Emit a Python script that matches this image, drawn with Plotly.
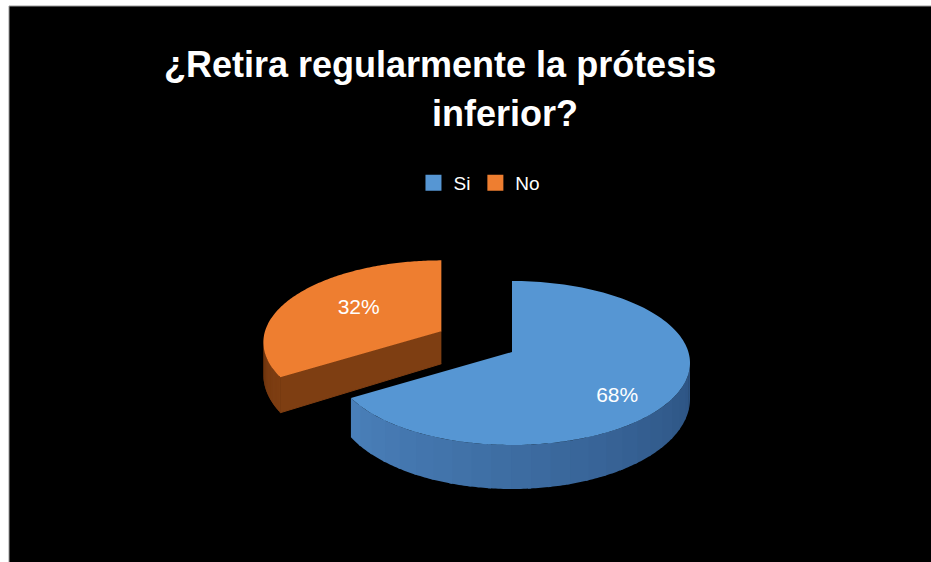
import numpy as np
import plotly.graph_objects as go

# ---- data ----
labels = ["Si", "No"]
values = [68, 32]
explode = [0.0, 0.47]
top_colors = ["#5696D3", "#EE7E30"]
side_colors_a = ["#4A80BA", "#7E3E12"]   # side shading, near slice start
side_colors_b = ["#2C5281", "#733710"]   # side shading, far end
title_line1 = "¿Retira regularmente la prótesis"
title_line2 = "inferior?"

# ---- layout constants (pixel space) ----
W, H = 931, 562
CX, CY = 512, 363
RX, RY = 178, 82
VOFF = 11
THICK_SCALE = [1.0, 0.9]
LABEL_F = [0.7, 0.55]
LABEL_DY = [14, 2]
FONT = "Liberation Sans Narrow, Arial Narrow, Liberation Sans, Arial, sans-serif"


def thick(th, sc=1.0):
    return sc * (36 + 8 * np.maximum(0, -np.cos(np.radians(th))))


def arc(cx, cy, a0, a1, n=80):
    th = np.linspace(a0, a1, n)
    r = np.radians(th)
    return cx + RX * np.sin(r), cy - RY * np.cos(r), th


def mix(c1, c2, f):
    a = [int(c1[i:i + 2], 16) for i in (1, 3, 5)]
    b = [int(c2[i:i + 2], 16) for i in (1, 3, 5)]
    return "#" + "".join(f"{int(round(a[k] + (b[k] - a[k]) * f)):02x}" for k in range(3))


total = sum(values)
starts = np.concatenate([[0], np.cumsum(values)[:-1]]) / total * 360
ends = np.cumsum(values) / total * 360

slices = []
for i, (lab, v) in enumerate(zip(labels, values)):
    a0, a1 = starts[i], ends[i]
    bis = np.radians((a0 + a1) / 2)
    ox = RX * explode[i] * np.sin(bis)
    oy = -RY * explode[i] * np.cos(bis)
    slices.append(dict(i=i, a0=a0, a1=a1, ox=ox, oy=oy, depth=oy - RY * np.cos(bis)))

fig = go.Figure()

for s in sorted(slices, key=lambda d: d["depth"]):
    i, a0, a1 = s["i"], s["a0"], s["a1"]
    sc = THICK_SCALE[i]
    cx, cy = CX + s["ox"], CY + s["oy"]
    vx, vy = cx, cy - VOFF
    # radial faces (visible if their normal faces the viewer)
    for a, sign in ((a0, -90), (a1, 90)):
        phi = np.radians(a + sign)
        if np.cos(phi) < -1e-6:
            r = np.radians(a)
            px, py = cx + RX * np.sin(r), cy - RY * np.cos(r)
            fig.add_trace(go.Scatter(
                x=[vx, px, px, vx], y=[vy, py, py + thick(a, sc), vy + 36 * sc],
                fill="toself", mode="lines", line=dict(color=side_colors_a[i], width=1),
                fillcolor=side_colors_a[i], hoverinfo="skip", showlegend=False))
    # outer visible side, shaded in bands
    lo, hi = max(a0, 90), min(a1, 270)
    if hi > lo:
        nb = 24
        edges = np.linspace(lo, hi, nb + 1)
        for k in range(nb):
            e0 = edges[k]
            e1 = min(edges[k + 1] + 1.0, hi)
            xs, ys, th = arc(cx, cy, e0, e1, 10)
            yb = ys + thick(th, sc)
            f = (hi - (edges[k] + edges[k + 1]) / 2) / (hi - lo) if i == 0 else k / nb
            col = mix(side_colors_a[i], side_colors_b[i], f)
            fig.add_trace(go.Scatter(
                x=np.concatenate([xs, xs[::-1]]), y=np.concatenate([ys, yb[::-1]]),
                fill="toself", mode="none", fillcolor=col,
                hoverinfo="skip", showlegend=False))
    # top face
    xs, ys, _ = arc(cx, cy, a0, a1, 160)
    fig.add_trace(go.Scatter(
        x=np.concatenate([[vx], xs, [vx]]), y=np.concatenate([[vy], ys, [vy]]),
        fill="toself", mode="none", fillcolor=top_colors[i],
        name=labels[i], hoverinfo="name", showlegend=False))
    # data label
    bis = np.radians((a0 + a1) / 2)
    f = LABEL_F[i]
    fig.add_trace(go.Scatter(
        x=[cx + RX * f * np.sin(bis)], y=[cy - VOFF - RY * f * np.cos(bis) + LABEL_DY[i]],
        mode="text", text=[f"{round(values[i] / total * 100)}%"],
        textfont=dict(color="white", size=21, family=FONT),
        hoverinfo="skip", showlegend=False))

# legend entries
for i, lab in enumerate(labels):
    fig.add_trace(go.Scatter(
        x=[None], y=[None], mode="markers", name=lab,
        marker=dict(symbol="square", size=16, color=top_colors[i])))

fig.add_annotation(x=440, y=64, text=f"<b>{title_line1}</b>", showarrow=False,
                   font=dict(color="white", size=36, family=FONT))
fig.add_annotation(x=505, y=113, text=f"<b>{title_line2}</b>", showarrow=False,
                   font=dict(color="white", size=36, family=FONT))

fig.update_layout(
    width=W, height=H,
    margin=dict(l=0, r=0, t=0, b=0),
    paper_bgcolor="white", plot_bgcolor="rgba(0,0,0,0)",
    shapes=[dict(type="rect", xref="paper", yref="paper",
                 x0=9 / W, x1=1.01, y0=-0.01, y1=1 - 6 / H,
                 fillcolor="black", line=dict(color="#9a9a9a", width=1), layer="below")],
    xaxis=dict(range=[0, W], visible=False, fixedrange=True),
    yaxis=dict(range=[H, 0], visible=False, fixedrange=True),
    legend=dict(orientation="h", x=0.515, y=1 - 183 / H, xanchor="center", yanchor="middle",
                font=dict(color="white", size=19, family=FONT),
                bgcolor="rgba(0,0,0,0)", itemwidth=30, tracegroupgap=0),
)

fig.write_html("out.html", config={"displayModeBar": False},
               post_script="document.body.style.margin='0';document.body.style.overflow='hidden';")
